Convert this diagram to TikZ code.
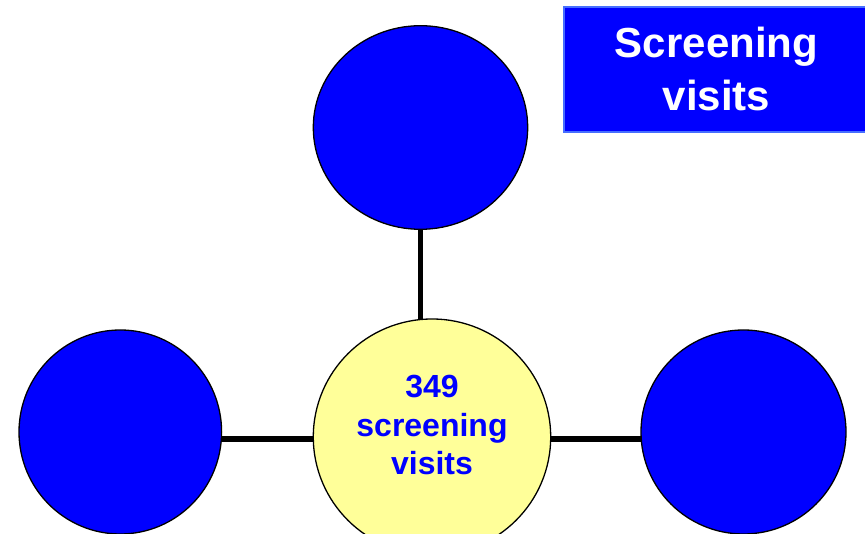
\documentclass[tikz,border=0pt]{standalone}
\usepackage{fontspec}
\setmainfont{Liberation Sans}
\usetikzlibrary{shapes.geometric,backgrounds}
\definecolor{cblue}{RGB}{0,0,255}
\definecolor{cyel}{RGB}{255,255,153}
\definecolor{cborder}{RGB}{70,110,255}
\tikzset{
  bluecirc/.style={ellipse, draw=black, line width=1.3pt, fill=cblue, inner sep=0pt},
  centerell/.style={ellipse, draw=black, line width=1.3pt, fill=cyel, inner sep=0pt},
  centertext/.style={text=cblue, font=\fontsize{32}{38.5}\selectfont\bfseries, align=center, inner sep=0pt},
  conn/.style={line width=5.5pt, black},
  titlebox/.style={rectangle, draw=cborder, line width=2pt, fill=cblue, text=white,
    font=\fontsize{42}{53}\selectfont\bfseries, align=center, inner sep=0pt}
}
\begin{document}
\begin{tikzpicture}[x=1pt,y=-1pt]
\useasboundingbox (0,0) rectangle (865,534);
\node[bluecirc, minimum width=214.4pt, minimum height=203.6pt] (top) at (420.5,127.5) {};
\node[bluecirc, minimum width=202.6pt, minimum height=204pt] (left) at (120.3,432) {};
\node[bluecirc, minimum width=205pt, minimum height=204pt] (right) at (743.5,432) {};
\node[centerell, minimum width=237.4pt, minimum height=236pt] (center) at (432,437) {};
\node[centertext] (ctext) at ([yshift=12pt]center.center) {349\\screening\\visits};
\node[titlebox, minimum width=305pt, minimum height=125pt] (title) at (716.5,69.2) {Screening\\visits};
\begin{scope}[on background layer]
\draw[conn] (top.center) -- (top.center |- center.center);
\draw[conn] ([yshift=-7pt]left.center) -- ([yshift=-7pt]left.center -| center.center);
\draw[conn] ([yshift=-7pt]right.center) -- ([yshift=-7pt]right.center -| center.center);
\end{scope}
\end{tikzpicture}
\end{document}
